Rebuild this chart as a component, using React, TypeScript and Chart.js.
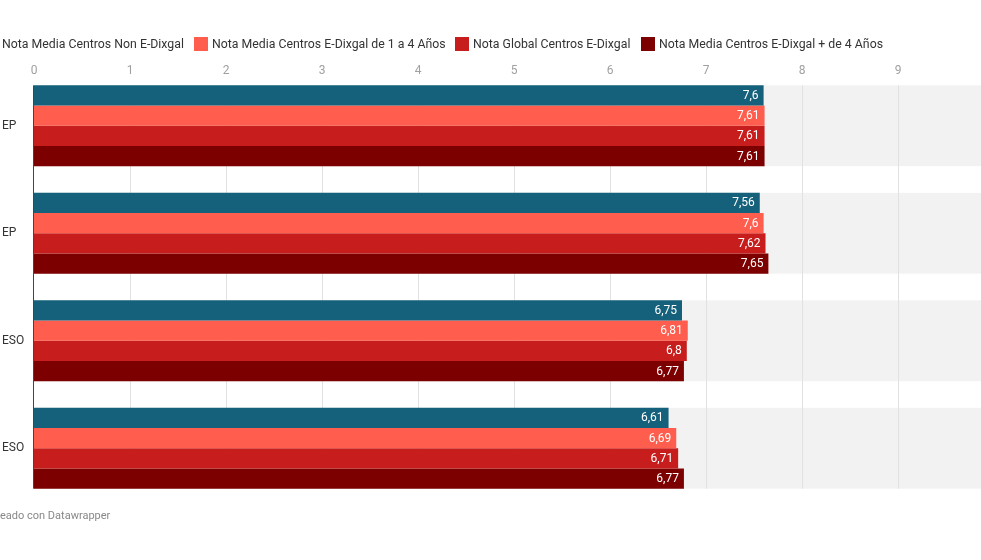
import React, { useEffect, useRef } from "react";
import { Chart, registerables } from "chart.js";

Chart.register(...registerables);

const categories = ["EP", "EP", "ESO", "ESO"];
const seriesNames = [
  "Nota Media Centros Non E-Dixgal",
  "Nota Media Centros E-Dixgal de 1 a 4 Años",
  "Nota Global Centros E-Dixgal",
  "Nota Media Centros E-Dixgal + de 4 Años",
];
const nonEDixgal = [7.6, 7.56, 6.75, 6.61];
const eDixgal1a4 = [7.61, 7.6, 6.81, 6.69];
const globalEDixgal = [7.61, 7.62, 6.8, 6.71];
const eDixgalMas4 = [7.61, 7.65, 6.77, 6.77];
const seriesColors = ["#15607a", "#ff5d4d", "#c71e1d", "#7d0000"];
const xTicksMax = 10;

const CAT_PCT = 0.752;

const bandsPlugin = {
  id: "bands",
  beforeDraw(chart: any) {
    const { ctx, chartArea, scales } = chart;
    const x = scales.x;
    const y = scales.y;
    const n = categories.length;
    const step = (chartArea.bottom - chartArea.top) / n;
    const h = step * CAT_PCT;
    ctx.save();
    ctx.fillStyle = "#f2f2f2";
    for (let i = 0; i < n; i++) {
      const c = y.getPixelForValue(i);
      ctx.fillRect(x.getPixelForValue(0), c - h / 2, chartArea.right - x.getPixelForValue(0), h);
    }
    const top = y.getPixelForValue(0) - h / 2;
    const bottom = y.getPixelForValue(n - 1) + h / 2;
    ctx.strokeStyle = "#e1e1e1";
    ctx.lineWidth = 1;
    for (let v = 1; v < xTicksMax; v++) {
      const px = Math.round(x.getPixelForValue(v)) + 0.5;
      ctx.beginPath();
      ctx.moveTo(px, top);
      ctx.lineTo(px, bottom);
      ctx.stroke();
    }
    ctx.restore();
  },
  afterDatasetsDraw(chart: any) {
    const { ctx, scales } = chart;
    const x = scales.x;
    const y = scales.y;
    const n = categories.length;
    const step = (chart.chartArea.bottom - chart.chartArea.top) / n;
    const h = step * CAT_PCT;
    const top = y.getPixelForValue(0) - h / 2;
    const bottom = y.getPixelForValue(n - 1) + h / 2;
    ctx.save();
    ctx.strokeStyle = "#444";
    ctx.lineWidth = 1;
    const px = Math.round(x.getPixelForValue(0)) - 0.5;
    ctx.beginPath();
    ctx.moveTo(px, top);
    ctx.lineTo(px, bottom);
    ctx.stroke();
    ctx.font = "12px Roboto";
    ctx.fillStyle = "#ffffff";
    ctx.textAlign = "right";
    ctx.textBaseline = "middle";
    chart.data.datasets.forEach((ds: any, di: number) => {
      const meta = chart.getDatasetMeta(di);
      meta.data.forEach((el: any, i: number) => {
        const v = ds.data[i];
        ctx.fillText(String(v).replace(".", ","), el.x - 5, el.y + 0.5);
      });
    });
    ctx.restore();
  },
};

export default function App() {
  const ref = useRef<HTMLCanvasElement | null>(null);
  useEffect(() => {
    if (!ref.current) return;
    Chart.defaults.font.family = "Roboto";
    const values = [nonEDixgal, eDixgal1a4, globalEDixgal, eDixgalMas4];
    const chart = new Chart(ref.current, {
      type: "bar",
      data: {
        labels: categories,
        datasets: values.map((d, i) => ({
          label: seriesNames[i],
          data: d,
          backgroundColor: seriesColors[i],
          borderWidth: 0,
          categoryPercentage: CAT_PCT,
          barPercentage: 1,
        })),
      },
      options: {
        indexAxis: "y",
        animation: false,
        responsive: false,
        maintainAspectRatio: false,
        layout: { padding: { left: 2, right: 6, top: 0, bottom: 58 } },
        plugins: { legend: { display: false }, tooltip: { enabled: false } },
        scales: {
          x: {
            position: "top",
            min: 0,
            max: xTicksMax,
            grid: { display: false, drawTicks: false },
            border: { display: false },
            ticks: {
              stepSize: 1,
              color: "#a0a0a0",
              font: { size: 12, family: "Roboto" },
              mirror: true,
              padding: -8,
              callback: (v: any) => (v === xTicksMax ? "" : String(v)),
            },
            afterFit: (s: any) => {
              s.height = 72;
            },
          },
          y: {
            grid: { display: false, drawTicks: false },
            border: { display: false },
            ticks: {
              color: "#333333",
              font: { size: 12, family: "Roboto" },
              crossAlign: "far",
              padding: 0,
            },
            afterFit: (s: any) => {
              s.width = 32;
            },
          },
        },
      },
      plugins: [bandsPlugin],
    } as any);
    return () => chart.destroy();
  }, []);

  const legendText = (left: number): React.CSSProperties => ({
    position: "absolute",
    left,
    top: 0,
    fontSize: 12.3,
    lineHeight: "16px",
    color: "#333",
    whiteSpace: "nowrap",
  });
  const sw = (c: string, left: number): React.CSSProperties => ({
    position: "absolute",
    left,
    top: 1,
    width: 14,
    height: 14,
    background: c,
  });

  return (
    <div
      style={{
        position: "fixed",
        left: 0,
        top: 0,
        width: 981,
        height: 560,
        overflow: "hidden",
        background: "#fff",
        fontFamily: "Roboto, sans-serif",
      }}
    >
      <canvas ref={ref} width={1000} height={560} style={{ position: "absolute", left: 0, top: 0, width: 1000, height: 560 }} />
      <div style={{ position: "absolute", left: 0, top: 36, width: 981, height: 16 }}>
        <span style={legendText(2)}>{seriesNames[0]}</span>
        <span style={sw(seriesColors[1], 194)} />
        <span style={legendText(212)}>{seriesNames[1]}</span>
        <span style={sw(seriesColors[2], 455)} />
        <span style={legendText(473)}>{seriesNames[2]}</span>
        <span style={sw(seriesColors[3], 641)} />
        <span style={legendText(659)}>{seriesNames[3]}</span>
      </div>
      <div style={{ position: "absolute", left: 0, top: 509, fontSize: 11, lineHeight: "14px", color: "#888", whiteSpace: "nowrap" }}>
        eado con Datawrapper
      </div>
    </div>
  );
}
